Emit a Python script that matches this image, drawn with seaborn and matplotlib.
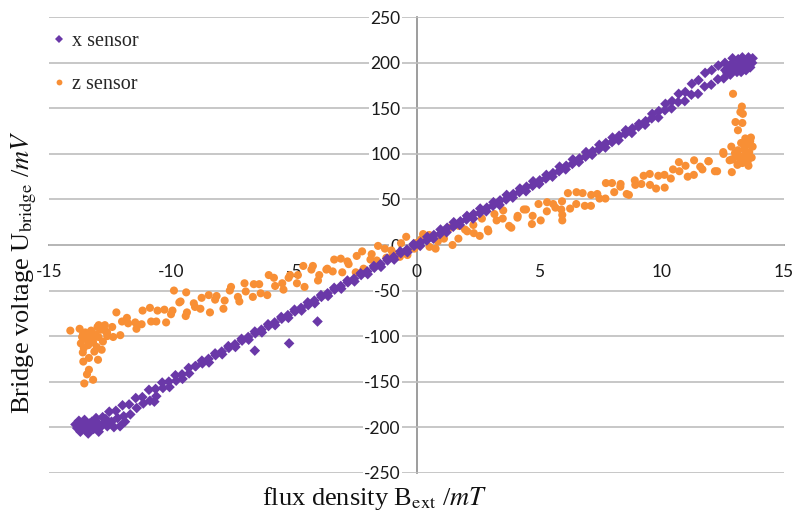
import matplotlib
matplotlib.use("Agg")
import matplotlib.pyplot as plt
from matplotlib.lines import Line2D
import numpy as np
import pandas as pd
import seaborn as sns

# ---- x sensor: field B_ext (mT) and bridge voltage (mV), two sweep branches ----
xs_up_B = [-13.85, -13.72, -13.60, -13.46, -13.33, -13.18, -13.05, -12.90, -12.76, -12.62,
           -12.45, -12.20, -11.95, -11.68, -11.42, -11.15, -10.88, -10.62, -10.35, -10.08,
           -9.81, -9.55, -9.28, -9.01, -8.74, -8.47, -8.20, -7.93, -7.66, -7.39,
           -7.12, -6.85, -6.58, -6.31, -6.04, -5.77, -5.50, -5.23, -4.96, -4.69,
           -4.42, -4.15, -3.88, -3.61, -3.34, -3.07, -2.80, -2.53, -2.26, -1.99,
           -1.72, -1.45, -1.18, -0.91, -0.64, -0.37, -0.10, 0.17, 0.44, 0.71,
           0.98, 1.25, 1.52, 1.79, 2.06, 2.33, 2.60, 2.87, 3.14, 3.41,
           3.68, 3.95, 4.22, 4.49, 4.76, 5.03, 5.30, 5.57, 5.84, 6.11,
           6.38, 6.65, 6.92, 7.19, 7.46, 7.73, 8.00, 8.27, 8.54, 8.81,
           9.08, 9.35, 9.62, 9.89, 10.16, 10.43, 10.70, 10.97, 11.24, 11.51,
           11.78, 12.05, 12.32, 12.59, 12.86, 13.13, 13.40, 13.62]
xs_up_U = [-201, -205, -199, -203, -198, -202, -196, -200, -195, -199,
           -194, -190, -188, -186, -179, -174, -171, -166, -157, -156,
           -149, -147, -141, -133, -130, -129, -121, -120, -113, -112,
           -105, -104, -97, -96, -89, -88, -81, -80, -73, -72,
           -66, -64, -57, -56, -49, -48, -41, -40, -33, -32,
           -25, -24, -17, -16, -9, -8, -1, 3, 9, 11,
           17, 19, 25, 26, 32, 34, 40, 41, 47, 49,
           55, 56, 62, 64, 70, 71, 77, 79, 86, 87,
           94, 95, 102, 103, 110, 112, 118, 120, 126, 128,
           133, 136, 144, 147, 155, 158, 166, 168, 177, 181,
           189, 192, 197, 200, 199, 204, 201, 203]

xs_down_B = [13.70, 13.58, 13.47, 13.35, 13.22, 13.08, 12.95, 12.81, 12.68, 12.54,
             12.30, 12.03, 11.76, 11.49, 11.22, 10.95, 10.68, 10.41, 10.14, 9.87,
             9.60, 9.33, 9.06, 8.79, 8.52, 8.25, 7.98, 7.71, 7.44, 7.17,
             6.90, 6.63, 6.36, 6.09, 5.82, 5.55, 5.28, 5.01, 4.74, 4.47,
             4.20, 3.93, 3.66, 3.39, 3.12, 2.85, 2.58, 2.31, 2.04, 1.77,
             1.50, 1.23, 0.96, 0.69, 0.42, 0.15, -0.12, -0.39, -0.66, -0.93,
             -1.20, -1.47, -1.74, -2.01, -2.28, -2.55, -2.82, -3.09, -3.36, -3.63,
             -3.90, -4.17, -4.44, -4.71, -4.98, -5.25, -5.52, -5.79, -6.06, -6.33,
             -6.60, -6.87, -7.14, -7.41, -7.68, -7.95, -8.22, -8.49, -8.76, -9.03,
             -9.30, -9.57, -9.84, -10.11, -10.38, -10.65, -10.92, -11.19, -11.46, -11.73,
             -12.00, -12.27, -12.54, -12.81, -13.08, -13.35, -13.58, -13.78]
xs_down_U = [200, 196, 201, 194, 197, 190, 193, 187, 189, 183,
             182, 176, 174, 166, 165, 158, 157, 150, 148, 140,
             139, 132, 130, 123, 122, 115, 113, 107, 105, 99,
             97, 91, 89, 83, 81, 75, 73, 67, 65, 59,
             58, 52, 50, 44, 43, 37, 35, 29, 28, 22,
             20, 14, 12, 7, 5, -1, 1, -5, -7, -13,
             -15, -21, -23, -29, -31, -37, -39, -45, -47, -53,
             -55, -61, -63, -69, -71, -77, -79, -85, -87, -93,
             -95, -101, -103, -109, -111, -117, -119, -125, -127, -133,
             -135, -142, -143, -150, -151, -158, -159, -167, -168, -175,
             -176, -182, -183, -189, -190, -196, -195, -200]

# turning-point clusters and stray readings of the x sensor
xs_extra_B = [-13.92, -13.78, -13.55, -13.40, -13.25, -12.97, -12.68, -12.35, -12.10, -11.90,
              -13.65, -13.10, 13.72, 13.55, 13.45, 13.30, 13.15, 13.00, 12.90, 12.75,
              12.60, 13.62, 13.25, -10.70, -6.60, -5.20, -4.04]
xs_extra_U = [-197, -193, -192, -207, -194, -205, -191, -200, -199, -194,
              -196, -193, 205, 206, 192, 206, 196, 197, 205, 194,
              192, 195, 190, -172, -116, -108, -84]

# ---- z sensor ----
zs_up_B = [-13.55, -13.22, -12.97, -12.63, -12.38, -12.02, -11.77, -11.43, -11.18, -10.83,
           -10.57, -10.22, -9.96, -9.63, -9.37, -9.04, -8.77, -8.43, -8.16, -7.83,
           -7.57, -7.23, -6.97, -6.64, -6.36, -6.03, -5.77, -5.43, -5.16, -4.84,
           -4.57, -4.23, -3.97, -3.64, -3.36, -3.03, -2.77, -2.44, -2.16, -1.83,
           -1.57, -1.23, -0.97, -0.63, -0.37, -0.04, 0.27, 0.53, 0.87, 1.14,
           1.47, 1.73, 2.07, 2.34, 2.67, 2.93, 3.27, 3.54, 3.87, 4.13,
           4.47, 4.74, 5.07, 5.33, 5.67, 5.94, 6.27, 6.53, 6.87, 7.13,
           7.47, 7.73, 8.07, 8.33, 8.67, 8.93, 9.27, 9.53, 9.87, 10.13,
           10.47, 10.73, 11.07, 11.33, 11.67, 11.93, 12.27, 12.53, 12.87, 13.14]
zs_up_U = [-97, -104, -88, -96, -101, -84, -86, -92, -72, -84,
           -72, -85, -72, -62, -74, -68, -58, -74, -56, -61,
           -46, -62, -51, -43, -53, -33, -45, -49, -33, -33,
           -46, -23, -33, -26, -16, -30, -21, -12, -26, -10,
           -1, -14, -10, 2, -11, 2, 12, -2, 4, 14,
           0, 21, 15, 13, 29, 15, 27, 38, 19, 32,
           39, 32, 27, 47, 41, 48, 40, 58, 43, 55,
           51, 68, 58, 67, 55, 66, 76, 66, 76, 63,
           83, 81, 75, 93, 83, 92, 81, 100, 94, 99]

zs_down_B = [13.40, 13.12, 12.78, 12.52, 12.18, 11.91, 11.58, 11.32, 10.98, 10.71,
             10.38, 10.12, 9.78, 9.52, 9.18, 8.91, 8.58, 8.32, 7.98, 7.71,
             7.38, 7.12, 6.78, 6.52, 6.18, 5.91, 5.58, 5.32, 4.98, 4.71,
             4.38, 4.12, 3.78, 3.52, 3.18, 2.91, 2.58, 2.32, 1.98, 1.71,
             1.38, 1.12, 0.78, 0.52, 0.18, -0.09, -0.42, -0.68, -1.02, -1.29,
             -1.62, -1.88, -2.22, -2.48, -2.82, -3.09, -3.42, -3.68, -4.02, -4.29,
             -4.62, -4.88, -5.22, -5.48, -5.82, -6.09, -6.42, -6.68, -7.02, -7.29,
             -7.62, -7.88, -8.22, -8.48, -8.82, -9.09, -9.42, -9.68, -10.02, -10.29,
             -10.62, -10.88, -11.22, -11.48, -11.82, -12.09, -12.42, -12.68, -13.02, -13.29,
             -13.61]
zs_down_U = [94, 104, 93, 102, 81, 92, 86, 77, 87, 91,
             73, 77, 62, 78, 67, 71, 56, 64, 68, 51,
             56, 43, 57, 45, 57, 39, 45, 37, 45, 23,
             39, 30, 21, 29, 34, 17, 10, 22, 17, 7,
             19, 7, -4, 11, 6, -4, 9, -13, -6, -4,
             -17, -16, -7, -30, -18, -15, -29, -27, -39, -27,
             -23, -42, -36, -42, -36, -55, -43, -57, -42, -57,
             -50, -70, -60, -55, -70, -64, -78, -63, -76, -71,
             -84, -69, -87, -85, -80, -99, -90, -95, -90, -105,
             -98]

# turning-point clusters, overshoot spikes and stray readings of the z sensor
zs_extra_B = [-13.75, -13.70, -13.65, -13.58, -13.52, -13.45, -13.40, -13.35, -13.28, -13.20,
              -13.12, -13.05, -12.98, -12.90, -12.80, -12.72, -12.62, -13.62, -13.15, -12.85,
              -13.56, -13.20, -13.37, -13.45, -13.60, -13.00, -13.37, -14.13, -9.90, -9.40,
              -12.25, 13.72, 13.68, 13.62, 13.58, 13.52, 13.48, 13.42, 13.38, 13.30,
              13.25, 13.18, 13.10, 13.00, 12.92, 12.85, 13.65, 13.55, 12.87, 12.92,
              13.28, 13.22, 13.32, 13.02, 13.30, 13.12, 13.42, 13.50, 5.95, 5.95]
zs_extra_U = [-92, -108, -101, -113, -96, -104, -110, -99, -94, -107,
              -98, -112, -101, -93, -106, -88, -100, -118, -117, -115,
              -152, -148, -137, -142, -128, -126, -124, -94, -50, -52,
              -74, 108, 96, 114, 102, 92, 110, 99, 105, 90,
              112, 96, 88, 101, 94, 108, 118, 87, 80, 166,
              152, 146, 144, 135, 134, 126, 117, 114, 27, 33]

series_labels = ["x sensor", "z sensor"]
x_ticks = [-15, -10, -5, 0, 5, 10, 15]
y_ticks = [-250, -200, -150, -100, -50, 0, 50, 100, 150, 200, 250]

PURPLE = "#6A38A8"
ORANGE = "#F88F35"

df_x = pd.DataFrame({"B": xs_up_B + xs_down_B + xs_extra_B,
                     "U": xs_up_U + xs_down_U + xs_extra_U})
df_z = pd.DataFrame({"B": zs_up_B + zs_down_B + zs_extra_B,
                     "U": zs_up_U + zs_down_U + zs_extra_U})

sns.set_theme(style="white")
plt.rcParams["font.family"] = ["Lato", "DejaVu Sans"]
plt.rcParams["mathtext.fontset"] = "stix"
plt.rcParams["axes.unicode_minus"] = False

fig = plt.figure(figsize=(7.95, 5.12), dpi=100)
ax = fig.add_axes([49 / 795, (512 - 472.7) / 512, 735 / 795, 455.4 / 512])

sns.scatterplot(data=df_z, x="B", y="U", marker="o", s=34, color=ORANGE,
                edgecolor="none", linewidth=0, ax=ax, legend=False, zorder=3)
sns.scatterplot(data=df_x, x="B", y="U", marker="D", s=29, color=PURPLE,
                edgecolor="none", linewidth=0, ax=ax, legend=False, zorder=4)

ax.set_xlim(-15, 15)
ax.set_ylim(-250, 250)
ax.set_xticks(x_ticks)
ax.set_yticks(y_ticks)
ax.set_xticklabels([str(t) for t in x_ticks])
ax.set_yticklabels([str(t) for t in y_ticks])

ax.set_axisbelow(True)
ax.yaxis.grid(True, color="#BDBDBD", linewidth=1.2)
ax.xaxis.grid(False)

for side in ("top", "right"):
    ax.spines[side].set_visible(False)
for side in ("left", "bottom"):
    ax.spines[side].set_position(("data", 0))
    ax.spines[side].set_color("#8C8C8C")
    ax.spines[side].set_linewidth(1.2)
    ax.spines[side].set_zorder(0.4)

ax.tick_params(axis="x", direction="out", length=5, width=1.1, color="#8C8C8C",
               pad=9, labelsize=12.5, labelcolor="#1a1a1a")
ax.tick_params(axis="y", length=0, pad=11.5, labelsize=12.5, labelcolor="#1a1a1a")
for lbl in ax.get_yticklabels():
    lbl.set_bbox(dict(facecolor="white", edgecolor="none", pad=1.0))

serif = "Liberation Serif"
ax.set_xlabel(r"flux density B$_{\mathrm{ext}}$ /$mT$", fontsize=19,
              family=serif, color="#111111")
ax.set_ylabel(r"Bridge voltage U$_{\mathrm{bridge}}$ /$mV$", fontsize=19,
              family=serif, color="#111111")
ax.xaxis.set_label_coords(0.443, -0.027)
ax.yaxis.set_label_coords(-0.013, 0.44)

handles = [Line2D([], [], marker="D", ls="", color=PURPLE, markersize=3.6, mew=0),
           Line2D([], [], marker="o", ls="", color=ORANGE, markersize=4.2, mew=0)]
ax.legend(handles, series_labels, loc="upper left", bbox_to_anchor=(0.006, 0.968),
          frameon=False, handlelength=0.6, handletextpad=0.3, labelspacing=1.2,
          borderaxespad=0, borderpad=0,
          prop={"family": serif, "size": 14.5})

fig.savefig("out.png", dpi=100)
